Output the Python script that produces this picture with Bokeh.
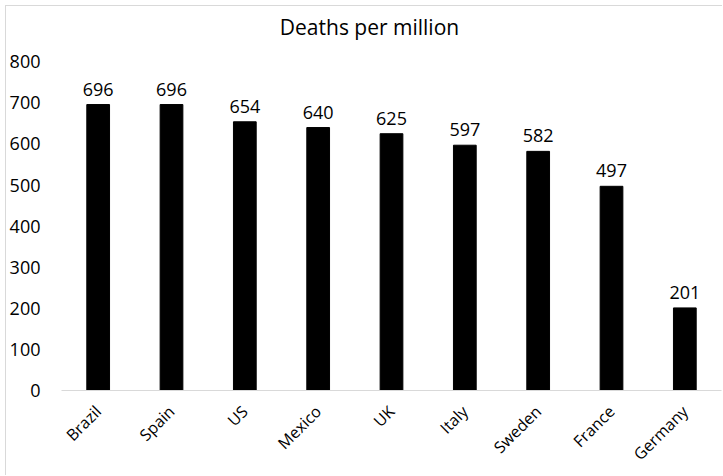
import math
from bokeh.plotting import figure
from bokeh.models import Range1d, ColumnDataSource, LabelSet, Label
from bokeh.core.properties import value
from bokeh.embed import file_html
from bokeh.resources import INLINE

countries = ["Brazil", "Spain", "US", "Mexico", "UK", "Italy", "Sweden", "France", "Germany"]
deaths = [696, 696, 654, 640, 625, 597, 582, 497, 201]
y_ticks = [0, 100, 200, 300, 400, 500, 600, 700, 800]
title_text = "Deaths per million"

FONT = "Open Sans"

src = ColumnDataSource(dict(x=countries, top=deaths, lab=[str(v) for v in deaths]))

# y range extends above 800 so the chart title sits inside the frame area
p = figure(x_range=countries, y_range=Range1d(0, 920),
           frame_width=660, frame_height=378,
           output_backend="svg", toolbar_location=None,
           min_border_left=55, min_border_right=1, min_border_top=6, min_border_bottom=80)
p.margin = (5, 0, 0, 5)
p.title = None

p.vbar(x="x", top="top", width=0.31, source=src, fill_color="black", line_color="black")

labels = LabelSet(x="x", y="top", text="lab", source=src, text_align="center",
                  text_baseline="alphabetic", y_offset=9, text_font=value(FONT),
                  text_font_size=value("18px"), text_color="#000000")
p.add_layout(labels)

p.add_layout(Label(x=4.2, y=885, text=title_text, text_align="center",
                   text_baseline="alphabetic", text_font=FONT,
                   text_font_size="21px", text_color="#000000"))

p.xgrid.grid_line_color = None
p.ygrid.grid_line_color = None
p.outline_line_color = None
p.background_fill_color = "white"
p.border_fill_color = "white"

p.yaxis.ticker = y_ticks
p.yaxis.axis_line_color = None
p.yaxis.major_tick_line_color = None
p.yaxis.minor_tick_line_color = None
p.yaxis.major_label_standoff = 15
p.yaxis.major_label_text_font = FONT
p.yaxis.major_label_text_font_size = "18px"
p.yaxis.major_label_text_color = "#000000"

p.xaxis.axis_line_color = "#d9d9d9"
p.xaxis.axis_line_width = 1
p.xaxis.major_tick_line_color = None
p.xaxis.minor_tick_line_color = None
p.xaxis.major_label_orientation = math.pi / 4
p.xaxis.major_label_standoff = 12
p.xaxis.major_label_text_font = FONT
p.xaxis.major_label_text_font_size = "16px"
p.xaxis.major_label_text_color = "#000000"
p.x_range.range_padding = 0

p.styles = {"border-left": "1px solid #d9d9d9", "border-top": "1px solid #d9d9d9"}

open("out.html", "w").write(file_html(p, INLINE))
